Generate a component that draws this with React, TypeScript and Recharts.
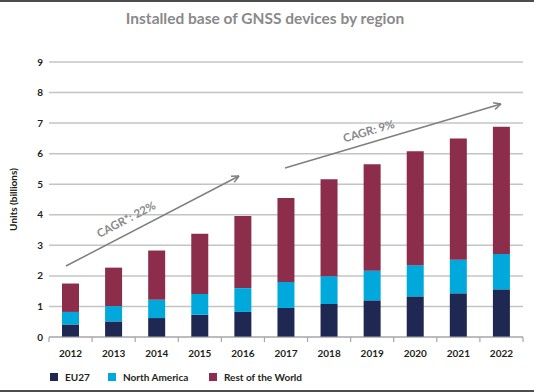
import { BarChart, Bar, XAxis, YAxis, CartesianGrid } from "recharts";

const YEARS = ["2012", "2013", "2014", "2015", "2016", "2017", "2018", "2019", "2020", "2021", "2022"];
const EU27 = [0.41, 0.51, 0.62, 0.73, 0.82, 0.95, 1.08, 1.2, 1.33, 1.43, 1.56];
const NORTH_AMERICA = [0.41, 0.5, 0.6, 0.68, 0.78, 0.85, 0.91, 0.97, 1.02, 1.1, 1.16];
const REST_OF_WORLD = [0.93, 1.26, 1.61, 1.97, 2.36, 2.75, 3.17, 3.48, 3.73, 3.97, 4.16];
const Y_TICKS = [0, 1, 2, 3, 4, 5, 6, 7, 8, 9];

const COLORS = {
  eu: "#1f2753",
  na: "#00a9db",
  row: "#8c2d4b",
};

const FONT = "Lato, 'Open Sans', sans-serif";
const TEXT_DARK = "#231f20";
const GREY = "#8a8a8a";

const W = 534;
const H = 392;
const PLOT_LEFT = 49;
const PLOT_RIGHT = 523;
const PLOT_TOP = 62;
const PLOT_BOTTOM = 337;
const BAND = (PLOT_RIGHT - PLOT_LEFT) / YEARS.length;

const data = YEARS.map((year, i) => ({
  year,
  eu: EU27[i],
  na: NORTH_AMERICA[i],
  row: REST_OF_WORLD[i],
}));

function XTick(props: any) {
  const { x, payload, index } = props;
  const left = x - BAND / 2;
  const right = x + BAND / 2;
  return (
    <g>
      <line x1={left} x2={left} y1={PLOT_BOTTOM} y2={PLOT_BOTTOM + 5} stroke="#a6a6a6" strokeWidth={1.2} />
      {index === YEARS.length - 1 && (
        <line x1={right} x2={right} y1={PLOT_BOTTOM} y2={PLOT_BOTTOM + 5} stroke="#a6a6a6" strokeWidth={1.2} />
      )}
      <text
        x={x}
        y={PLOT_BOTTOM + 20}
        textAnchor="middle"
        fontFamily={FONT}
        fontWeight={700}
        fontSize={10}
        fill={TEXT_DARK}
      >
        {payload.value}
      </text>
    </g>
  );
}

function Arrow({ x1, y1, x2, y2 }: { x1: number; y1: number; x2: number; y2: number }) {
  const ang = Math.atan2(y2 - y1, x2 - x1);
  const len = 8;
  const a1 = ang + Math.PI - 0.45;
  const a2 = ang + Math.PI + 0.45;
  return (
    <g stroke="#7f7f7f" strokeWidth={1.5} fill="none">
      <line x1={x1} y1={y1} x2={x2} y2={y2} />
      <line x1={x2} y1={y2} x2={x2 + len * Math.cos(a1)} y2={y2 + len * Math.sin(a1)} />
      <line x1={x2} y1={y2} x2={x2 + len * Math.cos(a2)} y2={y2 + len * Math.sin(a2)} />
    </g>
  );
}

const LEGEND = [
  { label: "EU27", color: COLORS.eu, x: 50 },
  { label: "North America", color: COLORS.na, x: 108 },
  { label: "Rest of the World", color: COLORS.row, x: 209 },
];

export default function App() {
  return (
    <div
      style={{
        position: "absolute",
        left: 0,
        top: 0,
        width: W,
        height: H,
        background: "#fff",
        overflow: "hidden",
      }}
    >
      <div style={{ position: "absolute", left: 0, top: 0, width: W, height: 2, background: "#4d4d4d" }} />
      <div style={{ position: "absolute", left: 0, bottom: 0, width: W, height: 2, background: "#4d4d4d" }} />

      <BarChart
        width={W}
        height={H}
        data={data}
        margin={{ top: PLOT_TOP, right: W - PLOT_RIGHT, left: 0, bottom: H - PLOT_BOTTOM - 30 }}
        barSize={17}
      >
        <CartesianGrid vertical={false} stroke="#c4c4c4" strokeWidth={1.5} />
        <XAxis
          dataKey="year"
          height={30}
          tickLine={false}
          axisLine={{ stroke: "#a6a6a6", strokeWidth: 1.2 }}
          tick={<XTick />}
          interval={0}
        />
        <YAxis
          width={PLOT_LEFT}
          domain={[0, 9]}
          ticks={Y_TICKS}
          axisLine={false}
          tickLine={false}
          tickSize={0}
          tickMargin={6}
          tick={{ fontFamily: FONT, fontWeight: 700, fontSize: 10, fill: TEXT_DARK }}
        />
        <Bar dataKey="eu" stackId="a" fill={COLORS.eu} isAnimationActive={false} />
        <Bar dataKey="na" stackId="a" fill={COLORS.na} isAnimationActive={false} />
        <Bar dataKey="row" stackId="a" fill={COLORS.row} isAnimationActive={false} />
      </BarChart>

      <svg
        width={W}
        height={H}
        style={{ position: "absolute", left: 0, top: 0, pointerEvents: "none" }}
      >
        <text
          x={265}
          y={24}
          textAnchor="middle"
          fontFamily={FONT}
          fontWeight={700}
          fontSize={15.5}
          fill={GREY}
        >
          Installed base of GNSS devices by region
        </text>
        <text
          transform={`translate(17, ${(PLOT_TOP + PLOT_BOTTOM) / 2}) rotate(-90)`}
          textAnchor="middle"
          fontFamily={FONT}
          fontWeight={700}
          fontSize={10}
          fill={TEXT_DARK}
        >
          Units (billions)
        </text>

        <Arrow x1={66} y1={266} x2={239} y2={176} />
        <text
          transform="translate(128, 223) rotate(-27.6)"
          textAnchor="middle"
          fontFamily={FONT}
          fontWeight={700}
          fontSize={11.5}
          fill={GREY}
        >
          CAGR*: 22%
        </text>

        <Arrow x1={285} y1={168} x2={501} y2={104} />
        <text
          transform="translate(370, 135) rotate(-16.4)"
          textAnchor="middle"
          fontFamily={FONT}
          fontWeight={700}
          fontSize={11.5}
          fill={GREY}
        >
          CAGR: 9%
        </text>
      </svg>

      {LEGEND.map((item) => (
        <div
          key={item.label}
          style={{
            position: "absolute",
            left: item.x,
            top: 371,
            display: "flex",
            alignItems: "center",
            fontFamily: FONT,
            fontWeight: 700,
            fontSize: 10,
            color: TEXT_DARK,
            whiteSpace: "nowrap",
          }}
        >
          <span style={{ display: "inline-block", width: 8, height: 8, background: item.color, marginRight: 7 }} />
          {item.label}
        </div>
      ))}
    </div>
  );
}
